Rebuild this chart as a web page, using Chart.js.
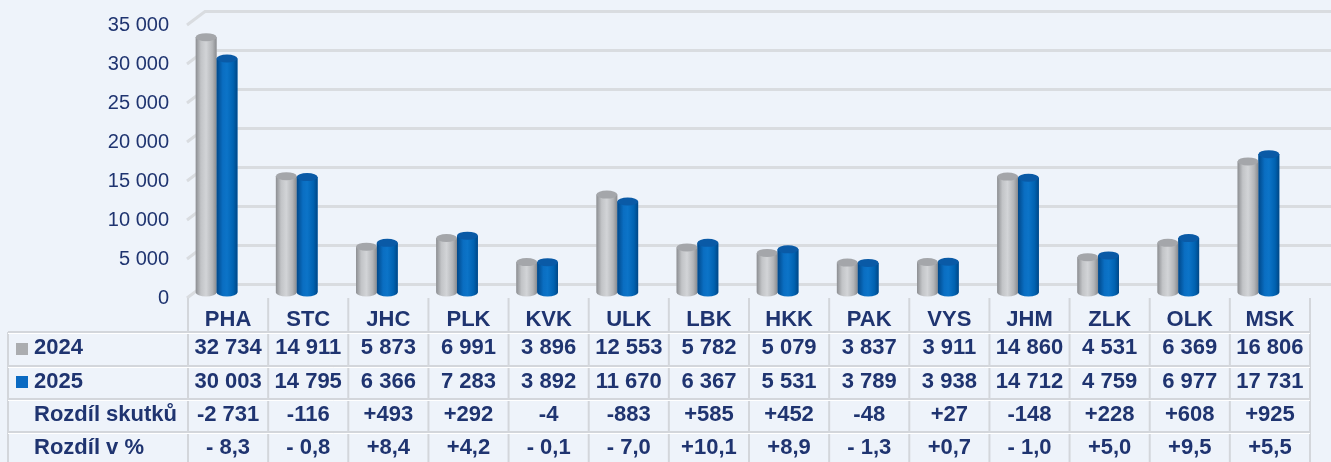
<!DOCTYPE html>
<html>
<head>
<meta charset="utf-8">
<script src="https://cdn.jsdelivr.net/npm/chart.js@4.4.1/dist/chart.umd.min.js"></script>
<style>
  body { margin: 0; background: #eef3fa; }
  canvas { display: block; }
</style>
</head>
<body>
<canvas id="myChart" width="1331" height="462"></canvas>
<script>
const kraje = ['PHA', 'STC', 'JHC', 'PLK', 'KVK', 'ULK', 'LBK', 'HKK', 'PAK', 'VYS', 'JHM', 'ZLK', 'OLK', 'MSK'];
const rok2024 = [32734, 14911, 5873, 6991, 3896, 12553, 5782, 5079, 3837, 3911, 14860, 4531, 6369, 16806];
const rok2025 = [30003, 14795, 6366, 7283, 3892, 11670, 6367, 5531, 3789, 3938, 14712, 4759, 6977, 17731];
const rozdilSkutku = [-2731, -116, 493, 292, -4, -883, 585, 452, -48, 27, -148, 228, 608, 925];
const rozdilProc = [-8.3, -0.8, 8.4, 4.2, -0.1, -7.0, 10.1, 8.9, -1.3, 0.7, -1.0, 5.0, 9.5, 5.5];
const osaY = [0, 5000, 10000, 15000, 20000, 25000, 30000, 35000];

const navy = '#1f3470';
const font = '"Liberation Sans", Arial, sans-serif';

function tisice(n) {
  return String(Math.abs(n)).replace(/\B(?=(\d{3})+(?!\d))/g, ' ');
}
function fmtRozdil(n) {
  return (n < 0 ? '-' : '+') + tisice(n);
}
function fmtProc(n) {
  const s = Math.abs(n).toFixed(1).replace('.', ',');
  return n < 0 ? '- ' + s : '+' + s;
}

// posun tabulky vuci sloupcum (3D hloubka)
const SHIFT = 11.5;
const LABEL_DY = 5.5;

const pozadi = {
  id: 'pozadi',
  beforeDraw(chart) {
    const c = chart.ctx;
    c.save();
    c.fillStyle = '#eef3fa';
    c.fillRect(0, 0, chart.width, chart.height);
    c.restore();
  }
};

const mrizka = {
  id: 'mrizka',
  beforeDatasetsDraw(chart) {
    const c = chart.ctx, y = chart.scales.y, a = chart.chartArea;
    c.save();
    c.strokeStyle = '#d9dce0';
    c.lineWidth = 3;
    osaY.forEach(v => {
      const py = y.getPixelForValue(v);
      c.beginPath();
      c.moveTo(a.left + 10.5, py + LABEL_DY);
      c.lineTo(a.left + 28.5, py - 8);
      c.lineTo(chart.width, py - 8);
      c.stroke();
    });
    c.restore();
  }
};

const valce = {
  id: 'valce',
  afterDatasetsDraw(chart) {
    const c = chart.ctx;
    const barvy = [
      [[0, '#8c8e92'], [0.25, '#c2c4c7'], [0.5, '#d2d4d7'], [0.8, '#b3b5b8'], [1, '#898b8f']],
      [[0, '#00488a'], [0.3, '#0a6ec2'], [0.5, '#0c74c8'], [0.8, '#0062b1'], [1, '#004786']]
    ];
    const vicka = ['#a4a6aa', '#0a5aa6'];
    chart.data.datasets.forEach((ds, di) => {
      chart.getDatasetMeta(di).data.forEach(el => {
        const x0 = el.x - el.width / 2, x1 = el.x + el.width / 2;
        const ry = 4;
        const g = c.createLinearGradient(x0, 0, x1, 0);
        barvy[di].forEach(s => g.addColorStop(s[0], s[1]));
        c.save();
        c.fillStyle = g;
        c.beginPath();
        c.moveTo(x0, el.y);
        c.lineTo(x0, el.base);
        c.ellipse(el.x, el.base, el.width / 2, ry, 0, Math.PI, 0, true);
        c.lineTo(x1, el.y);
        c.closePath();
        c.fill();
        c.fillStyle = vicka[di];
        c.beginPath();
        c.ellipse(el.x, el.y, el.width / 2, ry, 0, 0, Math.PI * 2);
        c.fill();
        c.restore();
      });
    });
  }
};

const tabulka = {
  id: 'tabulka',
  afterDraw(chart) {
    const c = chart.ctx, x = chart.scales.x;
    const colW = (x.right - x.left) / kraje.length;
    const left = 8;
    const tableL = x.left + SHIFT;
    const tableR = x.right + SHIFT;
    const radky = [298, 332, 366, 399, 432, 462];
    c.save();
    c.strokeStyle = '#d3d6db';
    c.lineWidth = 2;
    // svisle cary
    for (let i = 0; i <= kraje.length; i++) {
      const px = tableL + i * colW;
      c.beginPath();
      c.moveTo(px, radky[0]);
      c.lineTo(px, 462);
      c.stroke();
    }
    c.beginPath();
    c.moveTo(left, radky[1]);
    c.lineTo(left, 462);
    c.stroke();
    // vodorovne cary
    for (let r = 1; r <= 4; r++) {
      c.beginPath();
      c.moveTo(left, radky[r]);
      c.lineTo(tableR, radky[r]);
      c.stroke();
    }
    c.strokeStyle = '#ffffff';
    c.lineWidth = 1;
    for (let r = 1; r <= 4; r++) {
      c.beginPath();
      c.moveTo(left, radky[r] + 1.5);
      c.lineTo(tableR, radky[r] + 1.5);
      c.stroke();
    }

    c.fillStyle = navy;
    c.font = 'bold 22px ' + font;
    c.textBaseline = 'middle';
    const stredy = [320, 348, 382, 415, 448];
    const hodnoty = [
      kraje,
      rok2024.map(tisice),
      rok2025.map(tisice),
      rozdilSkutku.map(fmtRozdil),
      rozdilProc.map(fmtProc)
    ];
    c.textAlign = 'center';
    hodnoty.forEach((row, r) => {
      row.forEach((t, i) => {
        c.fillText(t, x.getPixelForValue(i) + SHIFT, stredy[r]);
      });
    });
    c.textAlign = 'left';
    const popisky = ['2024', '2025', 'Rozdíl skutků', 'Rozdíl v %'];
    popisky.forEach((t, r) => c.fillText(t, 34, stredy[r + 1]));
    // legenda
    c.fillStyle = '#abadb0';
    c.fillRect(16, 343, 12, 12);
    c.fillStyle = '#0a6ac2';
    c.fillRect(16, 376, 12, 12);
    c.restore();
  }
};

const ctx = document.getElementById('myChart');

new Chart(ctx, {
  type: 'bar',
  data: {
    labels: kraje,
    datasets: [{
      label: '2024',
      data: rok2024,
      backgroundColor: '#c2c4c7',
      categoryPercentage: 0.52,
      barPercentage: 1.0
    }, {
      label: '2025',
      data: rok2025,
      backgroundColor: '#0a6ec2',
      categoryPercentage: 0.52,
      barPercentage: 1.0
    }]
  },
  options: {
    responsive: false,
    animation: false,
    devicePixelRatio: 1,
    layout: {
      padding: { left: 0, right: 32.5, top: 18.2, bottom: 169.5 }
    },
    plugins: {
      legend: { display: false },
      tooltip: { enabled: false }
    },
    scales: {
      x: {
        display: false,
        grid: { display: false }
      },
      y: {
        min: 0,
        max: 35000,
        grid: { display: false, drawTicks: false },
        border: { display: false },
        afterFit(scale) { scale.width = 176.5; },
        ticks: {
          stepSize: 5000,
          padding: 7.5,
          labelOffset: LABEL_DY,
          color: navy,
          font: { family: font, size: 20 },
          callback: v => tisice(v)
        }
      }
    }
  },
  plugins: [pozadi, mrizka, valce, tabulka]
});
</script>
</body>
</html>
